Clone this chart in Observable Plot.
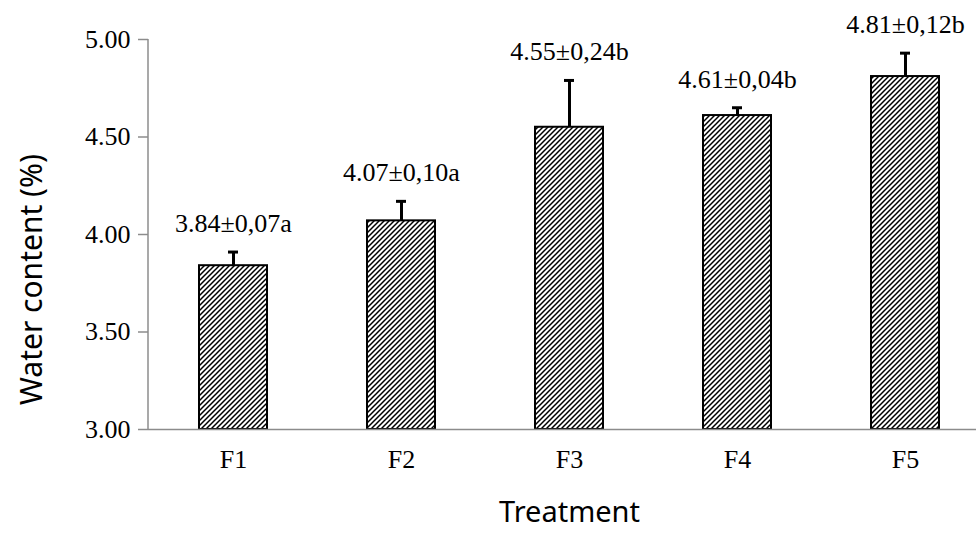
<!DOCTYPE html>
<html>
<head>
<meta charset="utf-8">
<script src="https://cdn.jsdelivr.net/npm/d3@7"></script>
<script src="https://cdn.jsdelivr.net/npm/@observablehq/plot@0.6"></script>
<style>
  html, body { margin: 0; padding: 0; background: #fff; overflow: hidden; }
  #chart svg { display: block; }
</style>
</head>
<body>
<div id="chart"></div>
<script>
const treatments = ["F1", "F2", "F3", "F4", "F5"];
const means = [3.84, 4.07, 4.55, 4.61, 4.81];
const sds = [0.07, 0.10, 0.24, 0.04, 0.12];
const letters = ["a", "a", "b", "b", "b"];
const yTicks = [3.00, 3.50, 4.00, 4.50, 5.00];

const data = treatments.map((t, i) => ({
  t,
  mean: means[i],
  sd: sds[i],
  top: means[i] + sds[i],
  label: `${means[i].toFixed(2)}±${sds[i].toFixed(2).replace(".", ",")}${letters[i]}`
}));

const serif = "'Liberation Serif', 'Times New Roman', serif";
const sans = "'Noto Sans', 'Open Sans', sans-serif";

const defs = () => {
  const d = d3.create("svg:defs");
  const p = d.append("pattern")
    .attr("id", "hatch")
    .attr("patternUnits", "userSpaceOnUse")
    .attr("width", 5).attr("height", 5);
  p.append("rect").attr("width", 5).attr("height", 5).attr("fill", "white");
  p.append("path")
    .attr("d", "M-1,1 l2,-2 M0,5 l5,-5 M4,6 l2,-2")
    .attr("stroke", "black").attr("stroke-width", 1.5);
  return d.node();
};

const chart = Plot.plot({
  width: 976,
  height: 533,
  marginLeft: 148,
  marginRight: -14,
  marginTop: 39,
  marginBottom: 104,
  style: { background: "white", overflow: "visible" },
  x: { domain: treatments, paddingInner: 0.595, paddingOuter: 0.2975, align: 0.5, axis: null },
  y: { domain: [3, 5], axis: null },
  marks: [
    defs,
    Plot.barY(data, { x: "t", y1: 3, y2: "mean", fill: "url(#hatch)", stroke: "black", strokeWidth: 2 }),
    Plot.ruleX(data, { x: "t", y1: "mean", y2: "top", stroke: "black", strokeWidth: 3 }),
    Plot.tickY(data, { x: "t", y: "top", stroke: "black", strokeWidth: 3, insetLeft: 29, insetRight: 29 }),
    Plot.ruleY([3], { stroke: "#8c8c8c", strokeWidth: 1.5 }),
    Plot.axisY({ ticks: yTicks, tickFormat: d3.format(".2f"), tickSize: 10, tickPadding: 8,
      stroke: "#8c8c8c", strokeWidth: 1.5, color: "black", fontSize: 26, fontFamily: serif, label: null }),
    Plot.axisX({ tickSize: 0, tickPadding: 20, fontSize: 26, fontFamily: serif, color: "black", label: null }),
    Plot.text(data, { x: "t", y: "top", text: "label", dy: -20, lineAnchor: "bottom", fontSize: 26, fontFamily: serif, fill: "black" }),
    Plot.text(["Water content (%)"], { frameAnchor: "left", textAnchor: "middle", rotate: -90, dx: -116, dy: 45, fontSize: 30, fontFamily: sans, fill: "black" }),
    Plot.text(["Treatment"], { frameAnchor: "bottom", dy: 92, fontSize: 29, fontFamily: sans, fill: "black" })
  ]
});

// y-axis line drawn from the plot's own scales
const xs = chart.scale("x"), ys = chart.scale("y");
d3.select(chart).append("line")
  .attr("x1", xs.range[0]).attr("x2", xs.range[0])
  .attr("y1", ys.apply(ys.domain[0])).attr("y2", ys.apply(ys.domain[1]))
  .attr("stroke", "#8c8c8c").attr("stroke-width", 1.5);

document.getElementById("chart").appendChild(chart);
</script>
</body>
</html>
